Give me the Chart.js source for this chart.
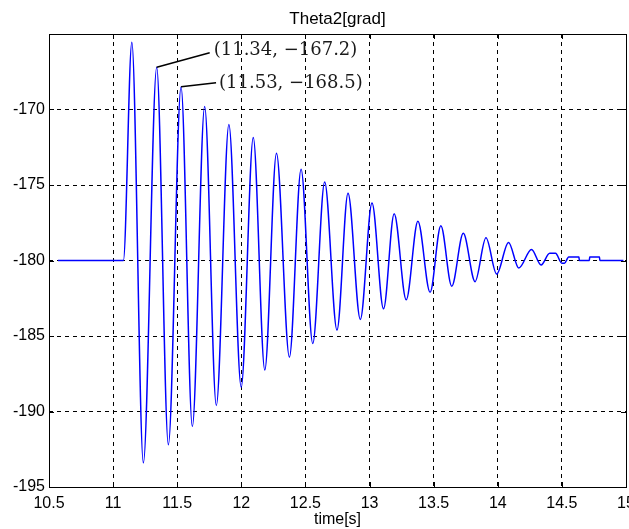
<!DOCTYPE html>
<html>
<head>
<meta charset="utf-8">
<script src="https://cdn.jsdelivr.net/npm/chart.js@4.4.1/dist/chart.umd.min.js"></script>
<style>
  html, body { margin: 0; padding: 0; background: #fff; }
  #chart { display: block; }
</style>
</head>
<body>
<canvas id="chart" width="629" height="529"></canvas>
<script>
// Theta2 response (peaks / troughs and the small steps at the end)
var times = [10.57, 11.08, 11.146, 11.236, 11.34, 11.431, 11.53, 11.618, 11.714, 11.805,
    11.903, 11.999, 12.093, 12.183, 12.274, 12.375, 12.466, 12.557, 12.65, 12.746,
    12.832, 12.928, 13.019, 13.109, 13.192, 13.286, 13.377, 13.472, 13.556, 13.641,
    13.731, 13.823, 13.908, 13.991, 14.084, 14.164, 14.263, 14.338, 14.405, 14.45,
    14.50, 14.52, 14.553, 14.633, 14.636, 14.714, 14.717, 14.793, 14.796, 14.98];
var theta2 = [-180, -180, -165.55, -193.4, -167.2, -192.2, -168.5, -191.0, -169.8, -189.6,
    -171.0, -188.4, -171.85, -187.25, -172.9, -186.4, -173.95, -185.5, -174.8, -184.6,
    -175.55, -183.9, -176.2, -183.2, -176.9, -182.6, -177.4, -182.1, -177.7, -181.7,
    -178.2, -181.4, -178.5, -180.9, -178.8, -180.5, -179.27, -180.3, -179.52, -179.52,
    -180.18, -180.18, -179.77, -179.77, -180, -180, -179.77, -179.77, -180, -180];

// data tips
var tipT = [11.34, 11.53];
var tipV = [-167.2, -168.5];
var tipText = ['(11.34, \u2212167.2)', '(11.53, \u2212168.5)'];

var chartTitle = 'Theta2[grad]';

var points = times.map(function (t, i) { return { x: t, y: theta2[i] }; });

var sansFont = { family: 'Liberation Sans, Arial, sans-serif', size: 16, weight: 'normal' };

// box round the plot with small inward ticks, like matlab, and the title over the plot
var boxPlugin = {
    id: 'box',
    afterDatasetsDraw: function (chart) {
        var ctx = chart.ctx, a = chart.chartArea;
        var xs = chart.scales.x, ys = chart.scales.y;
        ctx.save();
        ctx.strokeStyle = '#000';
        ctx.lineWidth = 1;
        ctx.beginPath();
        xs.ticks.forEach(function (tk) {
            var px = Math.round(xs.getPixelForValue(tk.value)) + 0.5;
            ctx.moveTo(px, a.bottom); ctx.lineTo(px, a.bottom - 5);
            ctx.moveTo(px, a.top); ctx.lineTo(px, a.top + 5);
        });
        ys.ticks.forEach(function (tk) {
            var py = Math.round(ys.getPixelForValue(tk.value)) + 0.5;
            ctx.moveTo(a.left, py); ctx.lineTo(a.left + 5, py);
            ctx.moveTo(a.right, py); ctx.lineTo(a.right - 5, py);
        });
        ctx.stroke();
        ctx.strokeRect(Math.round(a.left) + 0.5, Math.round(a.top) + 0.5,
            Math.round(a.right - a.left), Math.round(a.bottom - a.top));

        ctx.fillStyle = '#000';
        ctx.font = '17px "Liberation Sans", Arial, sans-serif';
        ctx.textAlign = 'center';
        ctx.textBaseline = 'middle';
        ctx.fillText(chartTitle, (a.left + a.right) / 2, 19);
        ctx.restore();
    }
};

var tipPlugin = {
    id: 'tips',
    afterDatasetsDraw: function (chart) {
        var ctx = chart.ctx;
        var xs = chart.scales.x, ys = chart.scales.y;
        var lineEnd = [[53, -14.5], [35, -4.2]];
        var textAt = [[57, -16.5], [38, -4]];
        ctx.save();
        ctx.strokeStyle = '#000';
        ctx.lineWidth = 1.5;
        ctx.fillStyle = '#1a1a1a';
        ctx.font = '18px "DejaVu Serif", serif';
        ctx.textAlign = 'left';
        ctx.textBaseline = 'middle';
        for (var i = 0; i < tipT.length; i++) {
            var px = xs.getPixelForValue(tipT[i]);
            var py = ys.getPixelForValue(tipV[i]);
            ctx.beginPath();
            ctx.moveTo(px, py);
            ctx.lineTo(px + lineEnd[i][0], py + lineEnd[i][1]);
            ctx.stroke();
            ctx.fillText(tipText[i], px + textAt[i][0], py + textAt[i][1]);
        }
        ctx.restore();
    }
};

new Chart(document.getElementById('chart').getContext('2d'), {
    type: 'line',
    data: {
        datasets: [{
            label: 'Theta2',
            data: points,
            borderColor: '#0000ff',
            borderWidth: 1.5,
            pointRadius: 0,
            fill: false,
            cubicInterpolationMode: 'monotone'
        }]
    },
    options: {
        responsive: false,
        maintainAspectRatio: false,
        animation: false,
        devicePixelRatio: 1,
        layout: { padding: { left: 0, right: 3, top: 34, bottom: 0 } },
        plugins: {
            legend: { display: false },
            tooltip: { enabled: false },
            title: { display: false }
        },
        scales: {
            x: {
                type: 'linear',
                min: 10.5,
                max: 15,
                ticks: {
                    stepSize: 0.5,
                    color: '#000',
                    font: sansFont,
                    padding: 7,
                    maxRotation: 0,
                    autoSkip: false,
                    callback: function (v) { return String(v); }
                },
                grid: { color: '#000', lineWidth: 1, drawTicks: false },
                border: { display: false, dash: [4, 4] },
                title: { display: true, text: 'time[s]', color: '#000', font: sansFont, padding: 0 },
                afterFit: function (s) { s.height = 42; s.paddingLeft = 0; s.paddingRight = 0; }
            },
            y: {
                min: -195,
                max: -165,
                ticks: {
                    stepSize: 5,
                    color: '#000',
                    font: sansFont,
                    padding: 4,
                    callback: function (v) { return v === -165 ? '' : String(v); }
                },
                grid: { color: '#000', lineWidth: 1, drawTicks: false },
                border: { display: false, dash: [4, 4] },
                afterFit: function (s) { s.width = 49; s.paddingTop = 0; s.paddingBottom = 0; }
            }
        }
    },
    plugins: [boxPlugin, tipPlugin]
});
</script>
</body>
</html>
